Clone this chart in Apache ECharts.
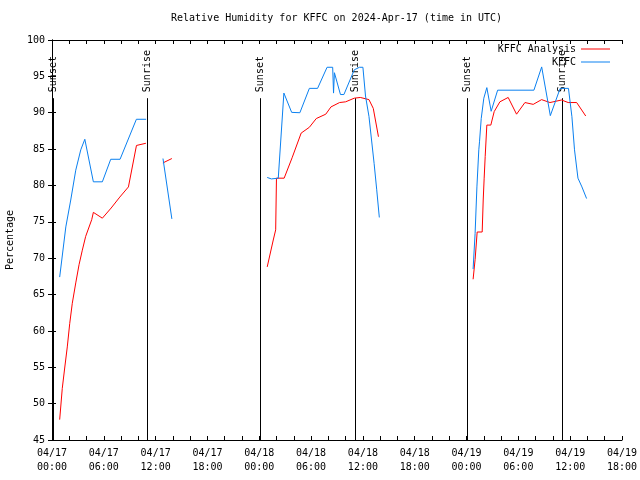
<!DOCTYPE html>
<html><head><meta charset="utf-8">
<script src="https://cdn.jsdelivr.net/npm/echarts@6/dist/echarts.min.js"></script>
<style>html,body{margin:0;padding:0;background:#fff}#c{width:640px;height:480px}</style>
</head><body><div id="c"></div>
<script>
// hours since 2024-04-17 00:00 UTC; null = gap in the record
const analysisHours = [0.89,1.19,1.47,1.77,2.05,2.35,2.75,3.13,3.51,3.9,4.6,4.79,5.83,6.85,7.85,8.85,9.78,10.87,
  11.9, 12.84,13.88, 19,
  24.92,25.62,25.9,25.99,26.88,27.8,28.85,29.8,30.6,31.7,32.3,33.3,34.0,35.0,35.7,36.7,37.2,37.8,
  43,
  48.76,48.99,49.23,49.81,49.93,50.04,50.16,50.35,50.81,51.2,51.86,52.82,53.79,54.76,55.72,56.69,57.66,59.0,59.77,60.75,61.8];
const analysisValues = [47.8,52.1,54.9,57.8,61.0,63.8,66.6,69.1,71.1,73.0,75.3,76.3,75.5,76.9,78.4,79.8,85.5,85.8,
  null, 83.1,83.7, null,
  68.8,72.5,73.9,81.0,81.0,83.8,87.2,88.0,89.2,89.8,90.8,91.4,91.5,92.0,92.1,91.8,90.6,86.7,
  null,
  67.1,69.8,73.6,73.6,78.0,81.0,84.0,88.3,88.3,90.15,91.5,92.1,89.8,91.4,91.15,91.8,91.4,91.75,91.4,91.4,89.55];

const obsHours = [0.89,1.6,2.17,2.75,3.33,3.8,4.79,5.83,6.8,7.88,9.77,10.9,
  11.9, 12.85,13.88, 19,
  24.92,25.4,26.2,26.85,27.75,28.7,29.8,30.75,31.85,32.5,32.6,32.7,33.4,33.8,35.0,35.6,36.0,36.3,36.7,37.3,37.6,37.9,
  43,
  48.76,48.99,49.2,49.42,49.5,49.7,50.0,50.35,50.85,51.6,55.8,56.7,57.7,58.84,59.8,60.2,60.5,60.9,61.36,61.9];
const obsValues = [67.4,74.3,78.0,82.1,84.9,86.35,80.5,80.5,83.6,83.6,89.1,89.1,
  null, 83.7,75.4, null,
  81.1,80.9,81.0,92.7,90.05,90.0,93.35,93.35,96.25,96.25,92.7,95.5,92.5,92.5,95.9,96.25,96.25,92.3,89.5,83.0,79.4,75.6,
  null,
  68.5,73.4,79.8,84.9,86.0,89.2,92.0,93.45,90.2,93.1,93.1,96.3,89.6,93.35,93.35,89.45,84.9,81.0,79.8,78.2];

const markerHours = [0.08, 11.05, 24.05, 35.1, 48.06, 59.07];
const markerLabels = ['Sunset','Sunrise','Sunset','Sunrise','Sunset','Sunrise'];

const xTickLabels = ['04/17\n00:00','04/17\n06:00','04/17\n12:00','04/17\n18:00',
  '04/18\n00:00','04/18\n06:00','04/18\n12:00','04/18\n18:00',
  '04/19\n00:00','04/19\n06:00','04/19\n12:00','04/19\n18:00'];

const seriesNames = ['KFFC Analysis','KFFC'];
const titleText = 'Relative Humidity for KFFC on 2024-Apr-17 (time in UTC)';
const yName = 'Percentage';

const FONT = 'DejaVu Sans Mono';
const markerTop = 92.0;

function pairs(hs, vs){ return hs.map((h,i)=>[h, vs[i] == null ? '-' : vs[i]]); }

const tickCommon = {
  axisLine:{show:true, lineStyle:{color:'#000', width:1}},
  axisTick:{show:true, inside:true, length:4, lineStyle:{color:'#000'}},
  splitLine:{show:false}
};

const chart = echarts.init(document.getElementById('c'), null, {renderer:'canvas'});
chart.setOption({
  animation:false,
  backgroundColor:'#fff',
  title:{text:titleText, left:171, top:13, padding:0,
    textStyle:{fontFamily:FONT, fontSize:10, fontWeight:'normal', color:'#000'}},
  grid:{left:52, right:18, top:40, bottom:40, containLabel:false, outerBoundsMode:'none'},
  legend:[
    {data:[seriesNames[0]], right:30, top:44, align:'right', padding:0, itemWidth:29, itemHeight:1, icon:'rect',
      textStyle:{fontFamily:FONT, fontSize:10, color:'#000'}},
    {data:[seriesNames[1]], right:30, top:57, align:'right', padding:0, itemWidth:29, itemHeight:1, icon:'rect',
      textStyle:{fontFamily:FONT, fontSize:10, color:'#000'}}
  ],
  xAxis:[
    Object.assign({type:'value', min:0, max:66, interval:6, position:'bottom',
      minorTick:{show:true, splitNumber:3, length:4, lineStyle:{color:'#000'}},
      axisLabel:{formatter:(v)=>xTickLabels[Math.round(v/6)], fontFamily:FONT, fontSize:10, color:'#000', lineHeight:14, margin:6}
    }, tickCommon),
    Object.assign({type:'value', min:0, max:66, interval:6, position:'top',
      minorTick:{show:true, splitNumber:3, length:4, lineStyle:{color:'#000'}},
      axisLabel:{show:false}
    }, tickCommon)
  ],
  yAxis:[
    Object.assign({type:'value', min:45, max:100, interval:5, position:'left',
      name:yName, nameLocation:'middle', nameGap:37, nameRotate:90,
      nameTextStyle:{fontFamily:FONT, fontSize:10, color:'#000'},
      axisLabel:{fontFamily:FONT, fontSize:10, color:'#000', margin:7}
    }, tickCommon),
    Object.assign({type:'value', min:45, max:100, interval:5, position:'right',
      axisLabel:{show:false}
    }, tickCommon)
  ],
  series:[
    {type:'custom', coordinateSystem:'cartesian2d', silent:true, clip:false, z:1,
      data: markerHours.map(h=>[h, markerTop]),
      encode:{x:0, y:1},
      renderItem:function(params, api){
        const h = api.value(0);
        const b = api.coord([h, 45]);
        const t = api.coord([h, markerTop]);
        const x = Math.round(b[0]) + 0.5;
        return {type:'group', children:[
          {type:'line', shape:{x1:x, y1:b[1], x2:x, y2:t[1]}, style:{stroke:'#000', lineWidth:1}},
          {type:'text', x:x, y:t[1]-6, rotation:Math.PI/2,
            style:{text:markerLabels[params.dataIndex], font:'10px "'+FONT+'"', fill:'#000', align:'left', verticalAlign:'middle'}}
        ]};
      }
    },
    {name:seriesNames[0], type:'line', data:pairs(analysisHours, analysisValues), symbol:'none', connectNulls:false, z:3,
      lineStyle:{color:'#ff0000', width:1}, itemStyle:{color:'#ff0000'}},
    {name:seriesNames[1], type:'line', data:pairs(obsHours, obsValues), symbol:'none', connectNulls:false, z:3,
      lineStyle:{color:'#0a80f0', width:1}, itemStyle:{color:'#0a80f0'}}
  ]
});
</script></body></html>
